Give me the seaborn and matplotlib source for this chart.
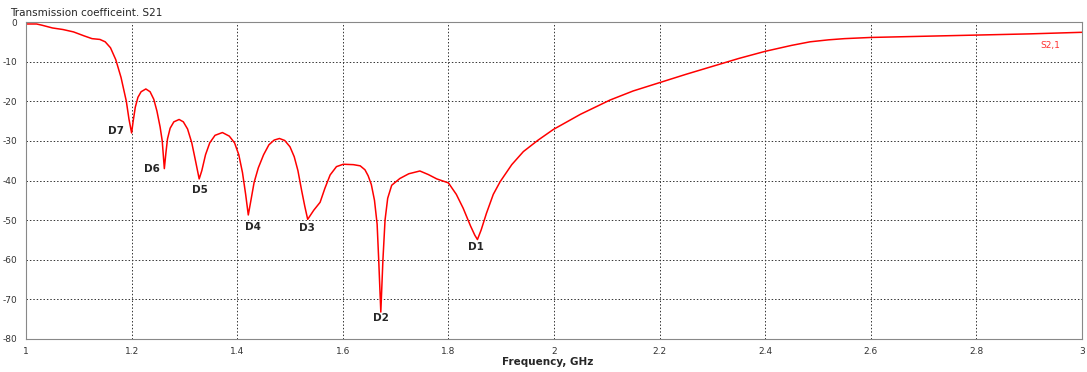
import pandas as pd
import matplotlib
matplotlib.use("Agg")
import matplotlib.pyplot as plt
import seaborn as sns

# ================================
# Data
# ================================
freq_ghz = [
    1.0, 1.02, 1.03, 1.05, 1.07, 1.09, 1.11, 1.125, 1.14, 1.15, 1.16, 1.17,
    1.18, 1.19, 1.195, 1.2, 1.203, 1.207, 1.212, 1.218, 1.227, 1.235, 1.242,
    1.248, 1.254, 1.258, 1.262, 1.265, 1.268, 1.273, 1.28, 1.29, 1.298, 1.306,
    1.314, 1.321, 1.328, 1.333, 1.34, 1.348, 1.358, 1.372, 1.385, 1.395, 1.403,
    1.41, 1.416, 1.421, 1.426, 1.432, 1.44, 1.45, 1.46, 1.47, 1.48, 1.49, 1.5,
    1.508, 1.515, 1.522, 1.528, 1.5335, 1.545, 1.557, 1.566, 1.576, 1.588,
    1.601, 1.62, 1.633, 1.642, 1.648, 1.654, 1.66, 1.665, 1.668, 1.672, 1.676,
    1.68, 1.685, 1.6926, 1.708, 1.725, 1.746, 1.762, 1.778, 1.8, 1.815,
    1.828, 1.842, 1.85, 1.855, 1.862, 1.872, 1.885, 1.898, 1.92, 1.942, 1.97,
    1.999, 2.05, 2.106, 2.15, 2.2, 2.25, 2.3, 2.35, 2.4, 2.45, 2.485, 2.52,
    2.55, 2.6, 2.7, 2.8, 2.9, 3.0,
]
s21_db = [
    -0.5, -0.5, -0.8, -1.5, -1.9, -2.5, -3.5, -4.2, -4.4, -5.0, -6.5, -9.5,
    -14.0, -20.0, -24.5, -28.0, -25.0, -21.5, -19.0, -17.6, -16.9, -17.6, -19.5,
    -22.5, -26.5, -30.0, -37.0, -33.0, -29.5, -26.8, -25.2, -24.6, -25.2, -27.0,
    -30.5, -35.0, -39.6, -37.5, -33.5, -30.5, -28.6, -27.9, -28.8, -30.5, -33.5,
    -38.0, -43.5, -48.7, -45.0, -40.5, -36.8, -33.5, -31.0, -29.8, -29.4, -29.9, -31.5,
    -34.0, -37.5, -42.5, -46.5, -49.8, -47.5, -45.5, -42.0, -38.6, -36.5,
    -35.9, -36.0, -36.3, -37.3, -38.8, -41.0, -45.0, -51.0, -60.0, -73.2, -60.0,
    -50.0, -44.5, -41.2, -39.5, -38.3, -37.6, -38.5, -39.6, -40.6, -43.5,
    -47.0, -51.5, -53.8, -54.9, -52.5, -48.3, -43.5, -40.3, -36.0, -32.7, -29.8,
    -27.1, -23.3, -19.7, -17.4, -15.3, -13.2, -11.2, -9.2, -7.4, -5.9, -5.0, -4.5,
    -4.2, -3.9, -3.6, -3.3, -3.0, -2.6,
]

# dip markers: label, frequency, dB of label text
dip_labels = ["D7", "D6", "D5", "D4", "D3", "D2", "D1"]
dip_freq = [1.17, 1.238, 1.33, 1.429, 1.532, 1.672, 1.852]
dip_db = [-27.4, -37.2, -42.4, -51.8, -51.9, -74.8, -56.7]

x_ticks = [1, 1.2, 1.4, 1.6, 1.8, 2, 2.2, 2.4, 2.6, 2.8, 3]
x_tick_labels = ["1", "1.2", "1.4", "1.6", "1.8", "2", "2.2", "2.4", "2.6", "2.8", "3"]
y_ticks = [0, -10, -20, -30, -40, -50, -60, -70, -80]

df = pd.DataFrame({"freq": freq_ghz, "s21": s21_db})

# ================================
# Plot
# ================================
sns.set_style("white")
plt.rcParams["font.family"] = ["DejaVu Sans"]
plt.rcParams["axes.unicode_minus"] = False

fig = plt.figure(figsize=(10.87, 3.72), dpi=100)
ax = fig.add_axes([26 / 1087, 33 / 372, 1056 / 1087, 317 / 372])

sns.lineplot(data=df, x="freq", y="s21", color="#ff0000", linewidth=1.1, ax=ax)

ax.set_xlim(1, 3)
ax.set_ylim(-80, 0)
ax.set_xticks(x_ticks)
ax.set_xticklabels(x_tick_labels)
ax.set_yticks(y_ticks)
ax.tick_params(axis="both", labelsize=6.5, colors="#333333", length=3, width=0.6)
ax.tick_params(axis="x", length=0, pad=6)
ax.grid(True, color="#333333", linestyle=(0, (1.5, 2)), linewidth=0.7)
for side in ax.spines.values():
    side.set_color("#888888")
    side.set_linewidth(0.8)

ax.set_xlabel("")
ax.set_ylabel("")

for lab, fx, fy in zip(dip_labels, dip_freq, dip_db):
    ax.text(fx, fy, lab, fontsize=7.5, fontweight="bold", ha="center", va="center")

ax.text(2.94, -6, "S2,1", color="#ff3030", fontsize=6.5, ha="center", va="center")

fig.text(10 / 1087, 1 - 13 / 372, "Transmission coefficeint. S21", fontsize=7.5,
         ha="left", va="center")
fig.text(548 / 1087, 1 - 362 / 372, "Frequency, GHz", fontsize=7.5,
         fontweight="bold", ha="center", va="center")

fig.savefig("out.png", dpi=100)
